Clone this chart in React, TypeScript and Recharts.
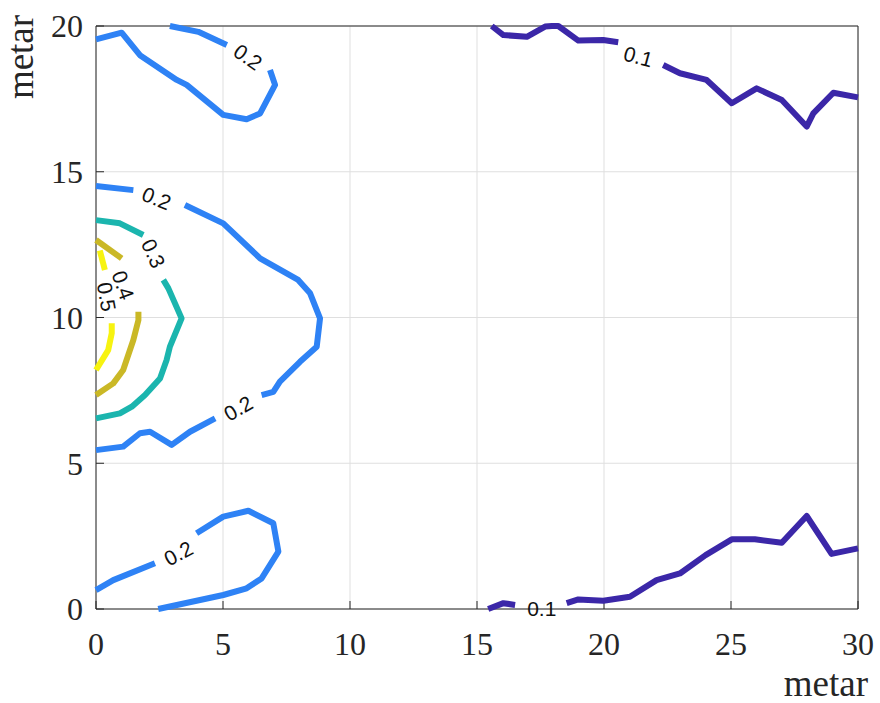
import React from "react";
import { ScatterChart, Scatter, XAxis, YAxis, CartesianGrid, Label } from "recharts";

type Pt = { x: number; y: number };
type ContourLabel = { x: number; y: number; text: string };

const xTicks = [0, 5, 10, 15, 20, 25, 30];
const yTicks = [0, 5, 10, 15, 20];

// level 0.1 (upper right)
const lvl01TopA: Pt[] = [
  { x: 15.58, y: 20 }, { x: 16.04, y: 19.69 }, { x: 16.96, y: 19.63 }, { x: 17.68, y: 19.98 },
  { x: 17.95, y: 20 }, { x: 18.2, y: 20 }, { x: 18.99, y: 19.5 }, { x: 19.97, y: 19.52 },
  { x: 20.56, y: 19.44 },
];
const lvl01TopB: Pt[] = [
  { x: 22.33, y: 18.66 }, { x: 22.99, y: 18.38 }, { x: 24.04, y: 18.15 }, { x: 25.03, y: 17.35 },
  { x: 26.01, y: 17.86 }, { x: 27.0, y: 17.46 }, { x: 27.98, y: 16.55 }, { x: 28.24, y: 17.0 },
  { x: 29.03, y: 17.71 }, { x: 30, y: 17.55 },
];
// level 0.1 (lower right)
const lvl01BotA: Pt[] = [
  { x: 15.44, y: 0 }, { x: 16.04, y: 0.2 }, { x: 16.5, y: 0.14 },
];
const lvl01BotB: Pt[] = [
  { x: 18.53, y: 0.2 }, { x: 18.99, y: 0.33 }, { x: 19.97, y: 0.28 }, { x: 21.02, y: 0.42 },
  { x: 22.07, y: 0.99 }, { x: 22.99, y: 1.22 }, { x: 24.0, y: 1.85 }, { x: 25.03, y: 2.39 },
  { x: 25.94, y: 2.39 }, { x: 27.0, y: 2.27 }, { x: 27.98, y: 3.19 }, { x: 28.96, y: 1.89 },
  { x: 30, y: 2.08 },
];

// level 0.2 (upper left)
const lvl02TopA: Pt[] = [
  { x: 0, y: 19.54 }, { x: 1.01, y: 19.77 }, { x: 1.73, y: 19.0 }, { x: 3.18, y: 18.15 },
  { x: 3.57, y: 17.98 }, { x: 5.01, y: 16.95 }, { x: 5.93, y: 16.8 }, { x: 6.46, y: 17.0 },
  { x: 7.05, y: 17.98 }, { x: 6.85, y: 18.49 },
];
const lvl02TopB: Pt[] = [
  { x: 5.15, y: 19.35 }, { x: 4.03, y: 19.8 }, { x: 2.91, y: 20 },
];
// level 0.2 (middle left)
const lvl02MidA: Pt[] = [
  { x: 0, y: 14.51 }, { x: 1.47, y: 14.37 },
];
const lvl02MidB: Pt[] = [
  { x: 3.5, y: 13.86 }, { x: 5.01, y: 13.23 }, { x: 6.46, y: 12.03 }, { x: 7.96, y: 11.29 },
  { x: 8.43, y: 10.83 }, { x: 8.82, y: 9.97 }, { x: 8.69, y: 9.0 }, { x: 8.03, y: 8.48 },
  { x: 7.24, y: 7.8 }, { x: 6.98, y: 7.45 }, { x: 6.52, y: 7.34 },
];
const lvl02MidC: Pt[] = [
  { x: 4.69, y: 6.54 }, { x: 3.7, y: 6.08 }, { x: 2.98, y: 5.63 }, { x: 2.13, y: 6.08 },
  { x: 1.73, y: 6.03 }, { x: 1.07, y: 5.57 }, { x: 0, y: 5.45 },
];
// level 0.2 (lower left)
const lvl02LowA: Pt[] = [
  { x: 0, y: 0.65 }, { x: 0.68, y: 0.99 }, { x: 2.32, y: 1.57 },
];
const lvl02LowB: Pt[] = [
  { x: 3.96, y: 2.6 }, { x: 5.01, y: 3.17 }, { x: 6.0, y: 3.37 }, { x: 6.98, y: 2.94 },
  { x: 7.18, y: 1.97 }, { x: 6.52, y: 1.05 }, { x: 5.93, y: 0.71 }, { x: 5.01, y: 0.48 },
  { x: 2.45, y: 0 },
];

// level 0.3
const lvl03A: Pt[] = [
  { x: 0, y: 13.34 }, { x: 0.94, y: 13.23 }, { x: 1.86, y: 12.83 },
];
const lvl03B: Pt[] = [
  { x: 2.65, y: 11.29 }, { x: 2.85, y: 11.0 }, { x: 3.37, y: 9.97 }, { x: 2.91, y: 9.0 },
  { x: 2.78, y: 8.54 }, { x: 2.52, y: 7.91 }, { x: 1.93, y: 7.34 }, { x: 1.41, y: 6.94 },
  { x: 0.94, y: 6.71 }, { x: 0, y: 6.54 },
];

// level 0.4
const lvl04A: Pt[] = [
  { x: 0, y: 12.66 }, { x: 1.01, y: 12.03 },
];
const lvl04B: Pt[] = [
  { x: 1.67, y: 10.2 }, { x: 1.67, y: 9.91 }, { x: 1.47, y: 9.23 }, { x: 1.07, y: 8.2 },
  { x: 0.68, y: 7.74 }, { x: 0, y: 7.34 },
];

// level 0.5
const lvl05A: Pt[] = [
  { x: 0.15, y: 12.3 }, { x: 0.35, y: 11.63 },
];
const lvl05B: Pt[] = [
  { x: 0.62, y: 9.8 }, { x: 0.62, y: 9.46 }, { x: 0.48, y: 8.88 }, { x: 0, y: 8.2 },
];

const contourLabels: ContourLabel[] = [
  { x: 5.98, y: 18.94, text: "0.2" },
  { x: 2.39, y: 14.09, text: "0.2" },
  { x: 5.6, y: 6.89, text: "0.2" },
  { x: 3.24, y: 1.91, text: "0.2" },
  { x: 2.26, y: 12.2, text: "0.3" },
  { x: 1.07, y: 11.11, text: "0.4" },
  { x: 0.42, y: 10.71, text: "0.5" },
  { x: 21.35, y: 18.95, text: "0.1" },
  { x: 17.55, y: 0.02, text: "0.1" },
];
// text rotation (deg) for each contour label, same order
const labelRotation = [35, 22, -30, -28, 65, 70, 80, 15, 0];

const C1 = "#3B27A8";
const C2 = "#2E82F5";
const C3 = "#1BB5AE";
const C4 = "#CAB826";
const C5 = "#F7F310";
const AXIS = "#262626";
const SERIF = '"Liberation Serif", "Times New Roman", serif';

const lines: { data: Pt[]; color: string }[] = [
  { data: lvl01TopA, color: C1 },
  { data: lvl01TopB, color: C1 },
  { data: lvl01BotA, color: C1 },
  { data: lvl01BotB, color: C1 },
  { data: lvl02TopA, color: C2 },
  { data: lvl02TopB, color: C2 },
  { data: lvl02MidA, color: C2 },
  { data: lvl02MidB, color: C2 },
  { data: lvl02MidC, color: C2 },
  { data: lvl02LowA, color: C2 },
  { data: lvl02LowB, color: C2 },
  { data: lvl03A, color: C3 },
  { data: lvl03B, color: C3 },
  { data: lvl04A, color: C4 },
  { data: lvl04B, color: C4 },
  { data: lvl05A, color: C5 },
  { data: lvl05B, color: C5 },
];

const noDot = () => <g />;

function LabelShape(props: any) {
  const { cx, cy, payload, index } = props;
  const i = typeof index === "number" ? index : contourLabels.indexOf(payload);
  const angle = labelRotation[i] ?? 0;
  return (
    <text
      x={cx}
      y={cy}
      transform={`rotate(${angle} ${cx} ${cy})`}
      textAnchor="middle"
      dominantBaseline="central"
      fontFamily='"Liberation Sans", Arial, sans-serif'
      fontSize={21}
      fill="#111"
    >
      {payload.text}
    </text>
  );
}

export default function App() {
  return (
    <div style={{ position: "absolute", left: 0, top: 0, width: 880, height: 703, background: "#fff" }}>
      <ScatterChart
        width={880}
        height={703}
        margin={{ top: 16, right: 12, bottom: 64, left: 36 }}
      >
        <CartesianGrid stroke="#dfdfdf" strokeWidth={1} />
        <XAxis
          type="number"
          dataKey="x"
          domain={[0, 30]}
          ticks={xTicks}
          height={30}
          stroke={AXIS}
          tickSize={-8}
          tickMargin={31}
          tick={{ fill: AXIS, fontSize: 32, fontFamily: SERIF }}
        >
          <Label
            content={(p: any) => {
              const vb = p.viewBox;
              return (
                <text x={vb.x + vb.width + 10} y={vb.y + 87} textAnchor="end" fontSize={37} fontFamily={SERIF} fill={AXIS}>
                  metar
                </text>
              );
            }}
          />
        </XAxis>
        <XAxis
          xAxisId="top"
          orientation="top"
          type="number"
          dataKey="x"
          domain={[0, 30]}
          ticks={xTicks}
          height={10}
          stroke={AXIS}
          tickSize={-8}
          tickFormatter={() => ""}
        />
        <YAxis
          type="number"
          dataKey="y"
          domain={[0, 20]}
          ticks={yTicks}
          width={60}
          stroke={AXIS}
          tickSize={-8}
          tickMargin={21}
          tick={{ fill: AXIS, fontSize: 32, fontFamily: SERIF }}
        >
          <Label
            content={(p: any) => {
              const vb = p.viewBox;
              const x = vb.x - 3;
              const y = vb.y + 31;
              return (
                <text x={x} y={y} transform={`rotate(-90 ${x} ${y})`} textAnchor="middle" fontSize={37} fontFamily={SERIF} fill={AXIS}>
                  metar
                </text>
              );
            }}
          />
        </YAxis>
        <YAxis
          yAxisId="right"
          orientation="right"
          type="number"
          dataKey="y"
          domain={[0, 20]}
          ticks={yTicks}
          width={10}
          stroke={AXIS}
          tickSize={-8}
          tickFormatter={() => ""}
        />
        {lines.map((l, i) => (
          <Scatter
            key={i}
            data={l.data}
            fill={l.color}
            line={{ stroke: l.color, strokeWidth: 6, strokeLinejoin: "round" }}
            shape={noDot}
            isAnimationActive={false}
          />
        ))}
        <Scatter data={contourLabels} shape={LabelShape} isAnimationActive={false} />
      </ScatterChart>
    </div>
  );
}
